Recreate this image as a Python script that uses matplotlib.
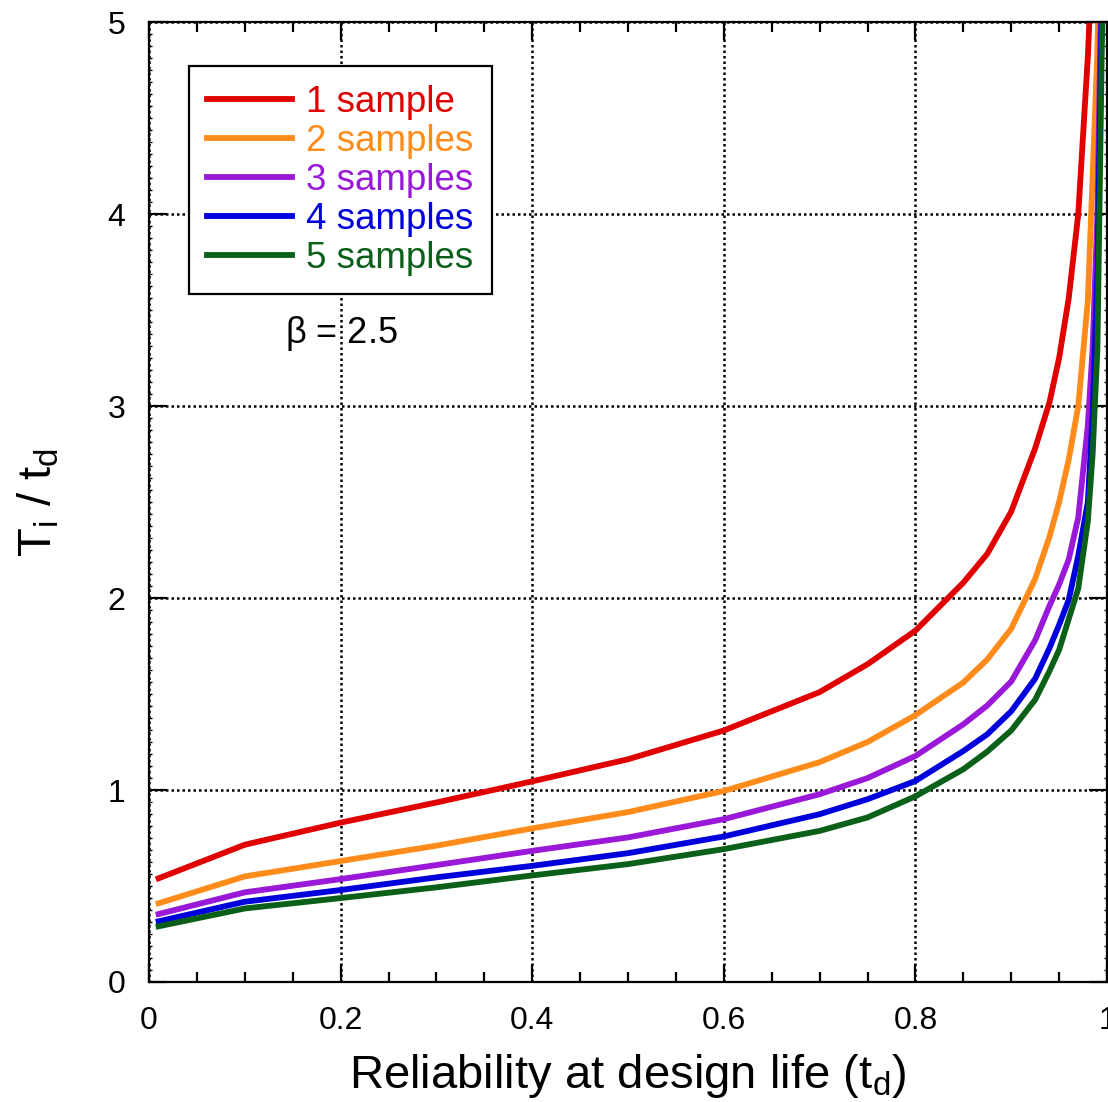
import numpy as np
import matplotlib
matplotlib.use('Agg')
import matplotlib.pyplot as plt
from matplotlib.ticker import MultipleLocator

plt.rcParams['font.family'] = ['Liberation Sans', 'DejaVu Sans']
plt.rcParams['mathtext.fontset'] = 'custom'
plt.rcParams['mathtext.rm'] = 'Liberation Sans'
plt.rcParams['mathtext.it'] = 'Liberation Sans'

# reliability at design life
reliability = [0.01, 0.1, 0.2, 0.3, 0.4, 0.5, 0.6, 0.7, 0.75, 0.8, 0.85, 0.875, 0.9,
               0.925, 0.94, 0.95, 0.96, 0.97, 0.98, 0.985, 0.99, 0.995]

# T_i / t_d for each number of samples
s1 = [0.54, 0.715, 0.83, 0.935, 1.045, 1.16, 1.31, 1.51, 1.655, 1.83, 2.08, 2.23, 2.45,
      2.78, 3.02, 3.25, 3.56, 4.0, 4.82, 5.4, 6.5, 8.5]
s2 = [0.41, 0.55, 0.63, 0.71, 0.80, 0.885, 0.995, 1.145, 1.25, 1.39, 1.56, 1.68, 1.84,
      2.1, 2.32, 2.5, 2.72, 3.0, 3.55, 4.2, 4.85, 6.0]
s3 = [0.354, 0.467, 0.536, 0.609, 0.683, 0.753, 0.848, 0.978, 1.062, 1.177, 1.342, 1.44, 1.565,
      1.78, 1.96, 2.07, 2.2, 2.42, 2.9, 3.3, 4.0, 5.5]
s4 = [0.316, 0.418, 0.479, 0.545, 0.605, 0.671, 0.758, 0.874, 0.952, 1.047, 1.203, 1.29, 1.41,
      1.58, 1.74, 1.86, 1.99, 2.22, 2.5, 2.95, 3.7, 5.2]
s5 = [0.29, 0.383, 0.437, 0.493, 0.555, 0.614, 0.692, 0.787, 0.857, 0.967, 1.108, 1.2, 1.31,
      1.47, 1.62, 1.73, 1.89, 2.05, 2.4, 2.75, 3.3, 5.0]

series = [s1, s2, s3, s4, s5]
labels = ['1 sample', '2 samples', '3 samples', '4 samples', '5 samples']
colors = ['#e00000', '#ff8c1a', '#9a18d8', '#0000dd', '#0a6018']

fig = plt.figure(figsize=(11.08, 11.02), dpi=100)
ax = fig.add_axes([0.1345, 0.1089, 0.8646, 0.8711])

for s, lab, c in zip(series, labels, colors):
    ax.plot(reliability, s, color=c, lw=4.2, label=lab)

ax.set_xlim(0, 1)
ax.set_ylim(0, 5)
ax.xaxis.set_major_locator(MultipleLocator(0.2))
ax.xaxis.set_minor_locator(MultipleLocator(0.05))
ax.yaxis.set_major_locator(MultipleLocator(1))
ax.yaxis.set_minor_locator(MultipleLocator(0.0625))
ax.set_xticks([0, 0.2, 0.4, 0.6, 0.8, 1.0])
ax.set_xticklabels(['0', '0.2', '0.4', '0.6', '0.8', '1'])

ax.tick_params(which='both', direction='in', top=True, right=True, width=1.6)
ax.tick_params(which='major', length=13, labelsize=23, pad=17)
ax.tick_params(axis='x', which='minor', length=7)
ax.tick_params(axis='y', which='minor', length=2, width=1)
for sp in ax.spines.values():
    sp.set_linewidth(1.6)

ax.grid(True, which='major', color='black', linestyle=(0, (1, 1.2)), lw=1.8)

ax.set_xlabel(r'Reliability at design life (t$_\mathregular{d}$)', fontsize=34, labelpad=12)
ax.set_ylabel(r'T$_\mathregular{i}$ / t$_\mathregular{d}$', fontsize=34, labelpad=33)

ax.text(0.142, 3.38, r'$\mathregular{\beta}$ = 2.5', fontsize=26, va='center', ha='left')

leg = ax.legend(loc='upper left', bbox_to_anchor=(0.0418, 0.954), borderaxespad=0,
                fontsize=26.5, fancybox=False, framealpha=1, edgecolor='black',
                handlelength=2.3, handletextpad=0.38, labelspacing=0.11, borderpad=0.5)
leg.get_frame().set_linewidth(1.6)
for t, c in zip(leg.get_texts(), colors):
    t.set_color(c)

fig.savefig('out.png', dpi=100)
